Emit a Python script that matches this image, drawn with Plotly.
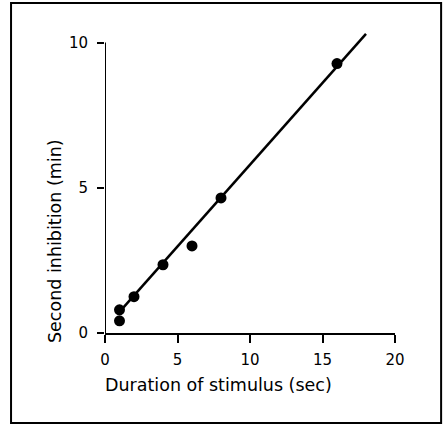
import plotly.graph_objects as go

# Data
duration_sec = [1, 1, 2, 4, 6, 8, 16]
inhibition_min = [0.8, 0.42, 1.25, 2.35, 3.0, 4.65, 9.28]
fit_x = [1, 18]
fit_y = [0.73, 10.3]

x_ticks = [0, 5, 10, 15, 20]
y_ticks = [0, 5, 10]
x_title = "Duration of stimulus (sec)"
y_title = "Second inhibition (min)"

font = dict(family="DejaVu Sans", size=15, color="black")

fig = go.Figure()
fig.add_trace(go.Scatter(x=fit_x, y=fit_y, mode="lines",
                         line=dict(color="black", width=2.5),
                         showlegend=False))
fig.add_trace(go.Scatter(x=duration_sec, y=inhibition_min, mode="markers",
                         marker=dict(color="black", size=11),
                         showlegend=False, cliponaxis=False))

fig.update_layout(
    width=443, height=425,
    margin=dict(l=105, r=48, t=31, b=92),
    paper_bgcolor="white", plot_bgcolor="white",
    font=font,
    xaxis=dict(range=[0, 20], tickvals=x_ticks, showline=True, linecolor="black",
               linewidth=2, ticks="outside", ticklen=8, tickwidth=2, tickcolor="black",
               showgrid=False, zeroline=False, ticklabelstandoff=4),
    yaxis=dict(range=[0, 10.4], tickvals=y_ticks, showline=False,
               ticks="outside", ticklen=7, tickwidth=2, tickcolor="black",
               showgrid=False, zeroline=False, ticklabelstandoff=6),
)

title_font = dict(family="DejaVu Sans", size=17.5, color="black")
# axis titles placed as in the reference (offset from the plot centre)
fig.add_annotation(text=x_title, xref="paper", yref="paper", x=0.39, y=-0.172,
                   showarrow=False, xanchor="center", yanchor="middle",
                   font=title_font)
fig.add_annotation(text=y_title, xref="paper", yref="paper", x=-0.172, y=0.305,
                   showarrow=False, xanchor="center", yanchor="middle",
                   textangle=-90, font=title_font)

# y axis line spanning 0..10 only
fig.add_shape(type="line", xref="x", yref="y", x0=0, x1=0, y0=0, y1=y_ticks[-1],
              line=dict(color="black", width=2))

fig.add_shape(type="rect", xref="paper", yref="paper",
              x0=-0.324, x1=1.159, y0=-0.298, y1=1.093,
              line=dict(color="black", width=2))

fig.write_html("out.html")
